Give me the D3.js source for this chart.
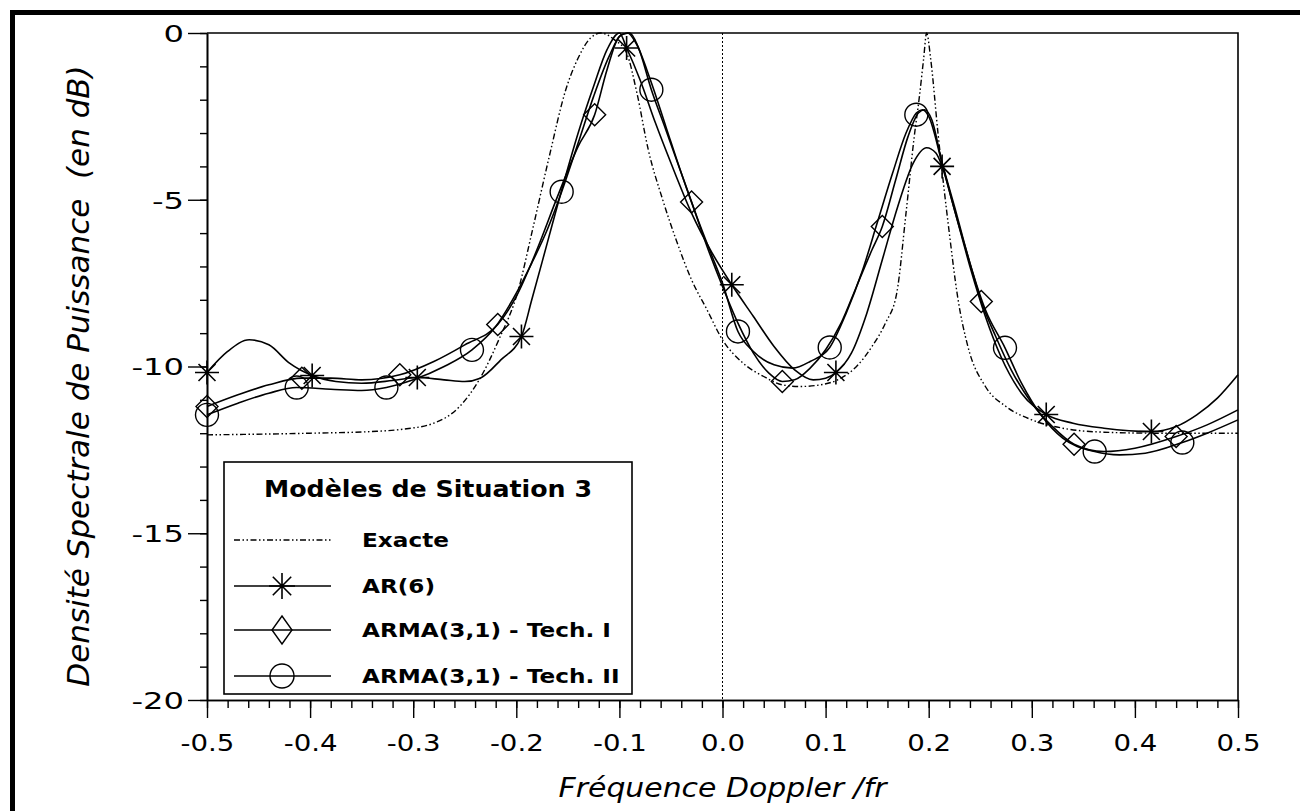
<!DOCTYPE html>
<html>
<head>
<meta charset="utf-8">
<script src="https://cdn.jsdelivr.net/npm/d3@7"></script>
<style>
  body { margin: 0; background: #fff; }
  svg { display: block; }
  text { font-family: "DejaVu Sans", sans-serif; fill: #000; }
</style>
</head>
<body>
<div id="chart"></div>
<script>
// spectre de puissance, situation 3 -- 4 models vs frequency

const W = 1300, H = 811;

// tick values
const xMajor = [-0.5, -0.4, -0.3, -0.2, -0.1, 0, 0.1, 0.2, 0.3, 0.4, 0.5];
const yMajor = [0, -5, -10, -15, -20];

// curves: [freq, dB]
const exacte = [[-0.5,-12.05],[-0.4,-12.0],[-0.34,-11.95],[-0.31,-11.88],[-0.28,-11.7],[-0.255,-11.2],
  [-0.236,-10.4],[-0.217,-9.2],[-0.198,-7.7],[-0.185,-6.0],[-0.168,-3.7],[-0.152,-1.7],[-0.14,-0.75],
  [-0.128,-0.15],[-0.118,0],[-0.105,-0.2],[-0.093,-0.6],[-0.083,-1.8],[-0.072,-3.5],[-0.058,-5.0],
  [-0.045,-6.2],[-0.03,-7.4],[-0.015,-8.3],[0.0,-9.2],[0.02,-9.9],[0.04,-10.3],[0.058,-10.55],
  [0.075,-10.6],[0.095,-10.55],[0.115,-10.35],[0.13,-10.0],[0.145,-9.4],[0.158,-8.7],[0.169,-7.8],
  [0.178,-5.4],[0.186,-3.1],[0.191,-1.9],[0.195,-0.8],[0.198,0],[0.202,-0.8],[0.209,-3.0],[0.22,-6.0],
  [0.228,-7.9],[0.238,-9.4],[0.255,-10.6],[0.275,-11.2],[0.3,-11.6],[0.33,-11.85],[0.37,-11.97],
  [0.42,-12.0],[0.5,-12.0]];

const ar6 = [[-0.5,-10.18],[-0.48,-9.55],[-0.459,-9.2],[-0.44,-9.35],[-0.42,-9.9],[-0.398,-10.27],
  [-0.375,-10.45],[-0.35,-10.5],[-0.32,-10.42],[-0.296,-10.33],[-0.27,-10.4],[-0.25,-10.45],
  [-0.235,-10.35],[-0.215,-9.8],[-0.195,-9.1],[-0.185,-8.0],[-0.17,-6.3],[-0.155,-4.6],[-0.14,-3.0],
  [-0.125,-1.6],[-0.112,-0.5],[-0.1,0],[-0.093,-0.45],[-0.08,-1.4],[-0.065,-2.7],[-0.05,-3.9],
  [-0.03,-5.4],[-0.01,-6.6],[0.009,-7.55],[0.03,-8.5],[0.05,-9.4],[0.07,-10.1],[0.088,-10.4],
  [0.1,-10.35],[0.11,-10.18],[0.125,-9.6],[0.14,-8.4],[0.155,-6.8],[0.17,-5.2],[0.185,-3.9],
  [0.198,-3.44],[0.207,-3.6],[0.213,-4.0],[0.225,-5.3],[0.24,-7.0],[0.255,-8.5],[0.27,-9.7],
  [0.29,-10.8],[0.314,-11.44],[0.34,-11.7],[0.37,-11.85],[0.416,-11.95],[0.44,-11.8],[0.46,-11.45],
  [0.48,-10.95],[0.5,-10.25]];

const techI = [[-0.5,-11.2],[-0.47,-10.85],[-0.44,-10.55],[-0.408,-10.35],[-0.38,-10.35],[-0.35,-10.4],
  [-0.313,-10.25],[-0.28,-9.85],[-0.25,-9.35],[-0.218,-8.74],[-0.2,-7.9],[-0.18,-6.5],[-0.16,-4.9],
  [-0.14,-3.4],[-0.124,-2.45],[-0.112,-1.1],[-0.1,-0.1],[-0.092,0],[-0.084,-0.3],[-0.07,-1.4],
  [-0.055,-2.8],[-0.04,-4.2],[-0.03,-5.07],[-0.015,-6.4],[0,-7.6],[0.015,-8.7],[0.03,-9.6],
  [0.045,-10.2],[0.058,-10.45],[0.07,-10.4],[0.085,-10.05],[0.1,-9.5],[0.115,-8.7],[0.13,-7.6],
  [0.145,-6.5],[0.155,-5.8],[0.168,-4.4],[0.18,-3.1],[0.19,-2.4],[0.196,-2.3],[0.203,-2.6],
  [0.213,-3.9],[0.225,-5.3],[0.24,-6.9],[0.251,-8.05],[0.265,-9.1],[0.28,-10.1],[0.3,-11.1],
  [0.32,-11.8],[0.341,-12.33],[0.37,-12.55],[0.4,-12.45],[0.44,-12.1],[0.47,-11.75],[0.5,-11.3]];

const techII = [[-0.5,-11.45],[-0.47,-11.1],[-0.44,-10.8],[-0.413,-10.63],[-0.38,-10.68],[-0.35,-10.72],
  [-0.326,-10.63],[-0.3,-10.4],[-0.27,-10.0],[-0.243,-9.5],[-0.22,-8.8],[-0.2,-7.8],[-0.185,-6.9],
  [-0.17,-5.9],[-0.156,-4.76],[-0.14,-3.3],[-0.125,-1.9],[-0.11,-0.7],[-0.098,-0.05],[-0.09,0],
  [-0.082,-0.4],[-0.069,-1.7],[-0.055,-2.9],[-0.04,-4.2],[-0.025,-5.5],[-0.01,-6.7],[0.0,-7.5],
  [0.015,-8.95],[0.03,-9.55],[0.05,-9.95],[0.068,-10.05],[0.085,-9.85],[0.104,-9.43],[0.12,-8.4],
  [0.136,-7.1],[0.15,-5.7],[0.165,-4.2],[0.178,-3.0],[0.188,-2.4],[0.194,-2.3],[0.2,-2.5],
  [0.213,-3.9],[0.225,-5.2],[0.24,-6.9],[0.255,-8.3],[0.274,-9.44],[0.29,-10.5],[0.31,-11.5],
  [0.33,-12.15],[0.361,-12.55],[0.385,-12.65],[0.41,-12.6],[0.446,-12.28],[0.47,-12.0],[0.5,-11.6]];

// marker positions
const arMarks = [[-0.5,-10.18],[-0.398,-10.27],[-0.296,-10.33],[-0.195,-9.1],[-0.093,-0.45],
  [0.009,-7.55],[0.11,-10.18],[0.213,-4.0],[0.314,-11.44],[0.416,-11.95]];
const techIMarks = [[-0.5,-11.2],[-0.408,-10.35],[-0.313,-10.25],[-0.218,-8.74],[-0.124,-2.45],
  [-0.03,-5.07],[0.058,-10.45],[0.155,-5.8],[0.251,-8.05],[0.341,-12.33],[0.44,-12.1]];
const techIIMarks = [[-0.5,-11.45],[-0.413,-10.63],[-0.326,-10.63],[-0.243,-9.5],[-0.156,-4.76],
  [-0.069,-1.7],[0.015,-8.95],[0.104,-9.43],[0.188,-2.45],[0.274,-9.44],[0.361,-12.55],[0.446,-12.28]];

const legendItems = ["Exacte", "AR(6)", "ARMA(3,1) - Tech. I", "ARMA(3,1) - Tech. II"];
const legendMarks = ["none", "star", "diamond", "circle"];

const dashExact = "6,2.5,1.5,2.5,1.5,2.5";

const svg = d3.select("#chart").append("svg")
  .attr("width", W).attr("height", H);

// outer frame (scan border)
svg.append("line").attr("x1", 10).attr("x2", W).attr("y1", 12.5).attr("y2", 12.5)
  .attr("stroke", "#000").attr("stroke-width", 5);
svg.append("line").attr("x1", 12.5).attr("x2", 12.5).attr("y1", 10).attr("y2", H)
  .attr("stroke", "#000").attr("stroke-width", 5);

const x = d3.scaleLinear().domain([-0.5, 0.5]).range([207, 1238]);
const y = d3.scaleLinear().domain([-20, 0]).range([700, 33]);

// text with horizontal stretch (the scan is wide)
function sText(g, px, py, str, size, sx, opts = {}) {
  return g.append("text")
    .attr("transform", `translate(${px},${py}) scale(${sx},1)`)
    .attr("text-anchor", opts.anchor || "start")
    .attr("font-size", size)
    .attr("font-weight", opts.weight || "normal")
    .attr("font-style", opts.style || "normal")
    .text(str);
}

// box top/right
svg.append("path")
  .attr("d", `M${x(-0.5)},${y(0)}H${x(0.5)}V${y(-20)}`)
  .attr("fill", "none").attr("stroke", "#000").attr("stroke-width", 1.6);

// zero line
svg.append("line")
  .attr("x1", x(0)).attr("x2", x(0)).attr("y1", y(0)).attr("y2", y(-20))
  .attr("stroke", "#000").attr("stroke-width", 1).attr("stroke-dasharray", "2,2");

// axes
const yAxis = svg.append("g").attr("transform", `translate(${x(-0.5)},0)`)
  .call(d3.axisLeft(y).tickValues(yMajor).tickSize(19).tickSizeOuter(0).tickPadding(4)
    .tickFormat(d => String(d)));
svg.append("g").attr("transform", `translate(${x(-0.5)},0)`)
  .call(d3.axisLeft(y).tickValues(d3.range(-20, 1, 1)).tickSize(7).tickSizeOuter(0).tickFormat(""));

const xAxis = svg.append("g").attr("transform", `translate(0,${y(-20)})`)
  .call(d3.axisBottom(x).tickValues(xMajor).tickSize(18).tickSizeOuter(0).tickPadding(17)
    .tickFormat(d => d.toFixed(1)));
svg.append("g").attr("transform", `translate(0,${y(-20)})`)
  .call(d3.axisBottom(x).tickValues(d3.range(0, 51).map(i => -0.5 + i * 0.02)).tickSize(8)
    .tickSizeOuter(0).tickFormat(""));

svg.selectAll(".domain").attr("stroke-width", 1.6);
svg.selectAll(".tick line").attr("stroke-width", 1.4);

const ySx = 1.4, xSx = 1.2;
yAxis.selectAll(".tick text")
  .attr("font-family", "DejaVu Sans").attr("font-size", 23).attr("fill", "#000")
  .attr("x", -23 / ySx).attr("dy", "0.36em")
  .attr("transform", `scale(${ySx},1)`);
xAxis.selectAll(".tick text")
  .attr("font-family", "DejaVu Sans").attr("font-size", 23).attr("fill", "#000")
  .attr("transform", `scale(${xSx},1)`)
  .each(function () { d3.select(this).attr("x", 0); });

// axis titles
svg.append("text")
  .attr("transform", `translate(89,376) rotate(-90)`)
  .attr("text-anchor", "middle").attr("font-size", 31).attr("font-style", "italic")
  .attr("xml:space", "preserve")
  .text("Densité Spectrale de Puissance  (en dB)");
sText(svg, x(0), 797, "Fréquence Doppler /fr", 26, 1.15, { anchor: "middle", style: "italic" });

// curves
const line = d3.line().x(d => x(d[0])).y(d => y(d[1])).curve(d3.curveMonotoneX);
const plot = svg.append("g");

plot.append("path").datum(exacte).attr("d", line)
  .attr("fill", "none").attr("stroke", "#000").attr("stroke-width", 1.4)
  .attr("stroke-dasharray", dashExact);
[ar6, techI, techII].forEach(s => {
  plot.append("path").datum(s).attr("d", line)
    .attr("fill", "none").attr("stroke", "#000").attr("stroke-width", 1.6);
});

// markers
function star(r) {
  let p = "";
  for (let k = 0; k < 4; k++) {
    const a = k * Math.PI / 4;
    p += `M${-r * Math.cos(a)},${-r * Math.sin(a)}L${r * Math.cos(a)},${r * Math.sin(a)}`;
  }
  return p;
}
function diamond(w, h) { return `M0,${-h}L${w},0L0,${h}L${-w},0Z`; }

function drawMark(g, type, px, py, legend) {
  if (type === "star") {
    g.append("path").attr("transform", `translate(${px},${py})`).attr("d", star(legend ? 13 : 12))
      .attr("stroke", "#000").attr("stroke-width", 1.6).attr("fill", "none");
  } else if (type === "diamond") {
    g.append("path").attr("transform", `translate(${px},${py})`)
      .attr("d", legend ? diamond(10, 14) : diamond(11, 11))
      .attr("stroke", "#000").attr("stroke-width", 1.4).attr("fill", "none");
  } else if (type === "circle") {
    g.append("circle").attr("cx", px).attr("cy", py).attr("r", legend ? 12 : 11.5)
      .attr("stroke", "#000").attr("stroke-width", 1.4).attr("fill", "none");
  }
}
arMarks.forEach(d => drawMark(plot, "star", x(d[0]), y(d[1])));
techIMarks.forEach(d => drawMark(plot, "diamond", x(d[0]), y(d[1])));
techIIMarks.forEach(d => drawMark(plot, "circle", x(d[0]), y(d[1])));

// legend
const leg = svg.append("g");
leg.append("rect").attr("x", 224).attr("y", 462).attr("width", 408).attr("height", 232)
  .attr("fill", "#fff").attr("stroke", "#000").attr("stroke-width", 1.6);
sText(leg, 428, 497, "Modèles de Situation 3", 23, 1.1, { anchor: "middle", weight: "bold" });
const legY = [540, 586, 630, 676];
legendItems.forEach((name, i) => {
  const ly = legY[i];
  leg.append("line").attr("x1", 234).attr("x2", 331).attr("y1", ly).attr("y2", ly)
    .attr("stroke", "#000").attr("stroke-width", i === 0 ? 1.4 : 1.6)
    .attr("stroke-dasharray", i === 0 ? dashExact : null);
  drawMark(leg, legendMarks[i], 282, ly, true);
  sText(leg, 362, ly + 7, name, 19, 1.22, { weight: "bold" });
});
</script>
</body>
</html>
